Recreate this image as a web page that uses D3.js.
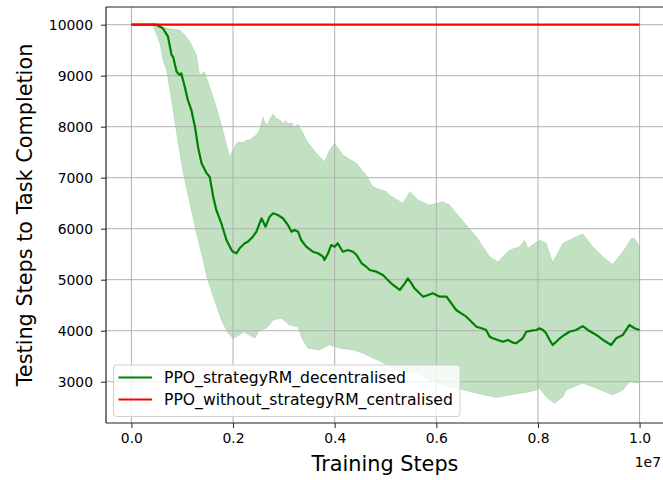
<!DOCTYPE html>
<html>
<head>
<meta charset="utf-8">
<script src="https://cdn.jsdelivr.net/npm/d3@7"></script>
<style>
  html, body { margin: 0; padding: 0; background: #fff; }
  svg { display: block; }
  text { font-family: "DejaVu Sans", sans-serif; fill: #000; }
</style>
</head>
<body>
<svg id="chart" width="663" height="480"></svg>
<script>
// Training steps are given in units of 1e7 (the axis carries a "1e7" offset label).
const meanSteps = [0.000, 0.049, 0.062, 0.072, 0.079, 0.082, 0.089, 0.095, 0.098, 0.105, 0.111, 0.118, 0.125, 0.131, 0.138, 0.148, 0.154, 0.161, 0.167, 0.177, 0.187, 0.197,
  0.200, 0.207, 0.213, 0.223, 0.229, 0.239, 0.246, 0.256, 0.264, 0.272, 0.279, 0.288, 0.298, 0.308, 0.315, 0.321, 0.328, 0.334, 0.344, 0.357, 0.367, 0.377, 0.380, 0.387, 0.393, 0.400, 0.406, 0.416, 0.426, 0.436, 0.443, 0.453, 0.462, 0.469, 0.482, 0.495, 0.508, 0.515, 0.528, 0.538, 0.544, 0.551, 0.557, 0.567, 0.574, 0.584, 0.593, 0.607, 0.620,
  0.639, 0.649, 0.659, 0.669, 0.679, 0.689, 0.698, 0.705, 0.711, 0.721, 0.731, 0.741, 0.751, 0.757, 0.764, 0.770, 0.777, 0.787, 0.797, 0.803, 0.810, 0.816, 0.823, 0.829, 0.836, 0.843, 0.852, 0.862, 0.875, 0.888, 0.898, 0.915, 0.928, 0.944, 0.954, 0.967, 0.980, 0.990, 1.000];
const meanValues = [10000, 10000, 9929, 9765, 9406, 9373, 9078, 9014, 9047, 8784, 8524, 8327, 8000, 7608, 7282, 7086, 7020, 6627, 6367, 6106, 5778, 5582,
  5549, 5518, 5616, 5714, 5745, 5843, 5941, 6204, 6039, 6235, 6302, 6269, 6204, 6073, 5941, 5975, 5941, 5778, 5647, 5549, 5518, 5451, 5386, 5518, 5680, 5647, 5714, 5549, 5582, 5549, 5484, 5322, 5255, 5190, 5157, 5092, 4961, 4896, 4798, 4929, 5027, 4929, 4831, 4733, 4667, 4700, 4733, 4667, 4667,
  4406, 4341, 4275, 4177, 4078, 4047, 4014, 3882, 3851, 3818, 3784, 3818, 3765, 3753, 3804, 3851, 3980, 4000, 4014, 4047, 4014, 3949, 3818, 3719, 3784, 3851, 3916, 3980, 4014, 4090, 4014, 3916, 3818, 3719, 3851, 3916, 4112, 4047, 4014];

const upperSteps = [0.000, 0.042, 0.069, 0.095, 0.102, 0.115, 0.128, 0.134, 0.144, 0.154, 0.167, 0.180, 0.193, 0.200, 0.207, 0.213, 0.220, 0.226, 0.233, 0.239, 0.246, 0.252, 0.259, 0.264, 0.269, 0.273, 0.279, 0.285, 0.292, 0.298, 0.304, 0.308, 0.315, 0.321, 0.328, 0.332, 0.338, 0.344, 0.364, 0.380, 0.390, 0.400, 0.416, 0.443, 0.456, 0.462, 0.475, 0.502, 0.508, 0.534, 0.548, 0.564, 0.587, 0.613, 0.626, 0.659, 0.679, 0.705, 0.721, 0.744, 0.764, 0.774, 0.780, 0.803, 0.816, 0.829, 0.849, 0.875, 0.888, 0.908, 0.928, 0.947, 0.967, 0.984, 0.990, 1.000];
const upperValues = [10000, 10000, 9929, 9896, 9831, 9667, 9406, 9014, 9078, 8784, 8392, 7937, 7412, 7543, 7675, 7706, 7686, 7739, 7739, 7791, 7837, 7937, 8196, 8033, 8067, 8165, 8249, 8165, 8131, 8067, 8118, 8053, 8078, 8000, 8053, 7969, 7871, 7739, 7478, 7314, 7543, 7675, 7445, 7282, 7118, 7053, 6824, 6726, 6661, 6498, 6726, 6563, 6465, 6529, 6465, 6073, 5843, 5451, 5353, 5582, 5647, 5778, 5616, 5778, 5720, 5340, 5714, 5843, 5900, 5647, 5451, 5300, 5549, 5812, 5812, 5650];

const lowerSteps = [0.000, 0.042, 0.056, 0.062, 0.069, 0.079, 0.092, 0.102, 0.115, 0.128, 0.141, 0.148, 0.161, 0.177, 0.190, 0.200, 0.213, 0.220, 0.243, 0.252, 0.266, 0.279, 0.295, 0.311, 0.328, 0.334, 0.347, 0.370, 0.390, 0.410, 0.436, 0.456, 0.475, 0.492, 0.502, 0.515, 0.528, 0.561, 0.587, 0.620, 0.646, 0.672, 0.718, 0.757, 0.784, 0.797, 0.803, 0.816, 0.823, 0.833, 0.849, 0.856, 0.888, 0.915, 0.947, 0.967, 0.980, 1.000];
const lowerValues = [10000, 10000, 9635, 9308, 9112, 8524, 7675, 7086, 6498, 5910, 5386, 5059, 4670, 4210, 3949, 3851, 3916, 3980, 3851, 4014, 4047, 4210, 4243, 4112, 4078, 3882, 3655, 3622, 3719, 3655, 3622, 3557, 3459, 3392, 3327, 3269, 3229, 3165, 3033, 2902, 2860, 2790, 2690, 2760, 2804, 2837, 2871, 2706, 2641, 2576, 2706, 2837, 2969, 2870, 2739, 2837, 3000, 2969];

const baselineSteps = [0.0, 1.0];
const baselineValues = [10000, 10000];

const xTicks = [0.0, 0.2, 0.4, 0.6, 0.8, 1.0];
const yTicks = [3000, 4000, 5000, 6000, 7000, 8000, 9000, 10000];
const seriesNames = ["PPO_strategyRM_decentralised", "PPO_without_strategyRM_centralised"];
const seriesColors = ["#008000", "#ff0000"];

const svg = d3.select("#chart");
const plot = { left: 106, right: 665, top: 7, bottom: 423 };

const x = d3.scaleLinear().domain([-0.05, 1.05]).range([plot.left, plot.right]);
const y = d3.scaleLinear().domain([2190, 10347]).range([plot.bottom, plot.top]);

svg.append("defs").append("clipPath").attr("id", "plot-clip")
  .append("rect")
  .attr("x", plot.left).attr("y", plot.top)
  .attr("width", plot.right - plot.left).attr("height", plot.bottom - plot.top);

const line = d3.line().x(d => x(d[0])).y(d => y(d[1]));

// shaded band between the lower and upper bounds
const upper = upperSteps.map((s, i) => [s, upperValues[i]]);
const lower = lowerSteps.map((s, i) => [s, lowerValues[i]]);
const bandPoints = upper.concat(lower.slice().reverse());

const bandLayer = svg.append("g").attr("clip-path", "url(#plot-clip)");
bandLayer.append("path")
  .attr("d", line(bandPoints) + "Z")
  .attr("fill", "#008000")
  .attr("fill-opacity", 0.24)
  .attr("stroke", "#008000")
  .attr("stroke-opacity", 0.12)
  .attr("stroke-width", 1);

// grid
const grid = svg.append("g").attr("clip-path", "url(#plot-clip)");
grid.selectAll("line.gx").data(xTicks).join("line")
  .attr("x1", d => x(d)).attr("x2", d => x(d))
  .attr("y1", plot.top).attr("y2", plot.bottom)
  .attr("stroke", "#b0b0b0").attr("stroke-width", 1);
grid.selectAll("line.gy").data(yTicks).join("line")
  .attr("x1", plot.left).attr("x2", plot.right)
  .attr("y1", d => y(d)).attr("y2", d => y(d))
  .attr("stroke", "#b0b0b0").attr("stroke-width", 1);

// series lines, drawn above the grid
const lineLayer = svg.append("g").attr("clip-path", "url(#plot-clip)");
lineLayer.append("path")
  .attr("d", line(meanSteps.map((s, i) => [s, meanValues[i]])))
  .attr("fill", "none")
  .attr("stroke", seriesColors[0])
  .attr("stroke-width", 2.2)
  .attr("stroke-linejoin", "round");

lineLayer.append("path")
  .attr("d", line(baselineSteps.map((s, i) => [s, baselineValues[i]])))
  .attr("fill", "none")
  .attr("stroke", seriesColors[1])
  .attr("stroke-width", 2.2);

// axes
const xAxis = d3.axisBottom(x).tickValues(xTicks).tickFormat(d3.format(".1f")).tickSizeOuter(0).tickSize(5).tickPadding(5);
const yAxis = d3.axisLeft(y).tickValues(yTicks).tickFormat(d3.format("d")).tickSizeOuter(0).tickSize(5).tickPadding(8);

const gx = svg.append("g").attr("transform", `translate(0,${plot.bottom})`).call(xAxis);
const gy = svg.append("g").attr("transform", `translate(${plot.left},0)`).call(yAxis);
[gx, gy].forEach(g => {
  g.select(".domain").remove();
  g.selectAll(".tick line").attr("stroke", "#222").attr("stroke-width", 1);
  g.selectAll(".tick text").attr("font-size", 13.9).attr("fill", "#222")
    .attr("font-family", "DejaVu Sans, sans-serif");
});

// spines (left, top, bottom)
svg.append("line").attr("x1", plot.left).attr("x2", plot.left).attr("y1", plot.top).attr("y2", plot.bottom)
  .attr("stroke", "#222").attr("stroke-width", 1.2);
svg.append("line").attr("x1", plot.left).attr("x2", plot.right).attr("y1", plot.top).attr("y2", plot.top)
  .attr("stroke", "#222").attr("stroke-width", 1.2);
svg.append("line").attr("x1", plot.left).attr("x2", plot.right).attr("y1", plot.bottom).attr("y2", plot.bottom)
  .attr("stroke", "#222").attr("stroke-width", 1.2);

// axis titles
svg.append("text")
  .attr("x", 385).attr("y", 471)
  .attr("text-anchor", "middle")
  .attr("font-size", 20.8)
  .attr("fill", "#111")
  .text("Training Steps");

svg.append("text")
  .attr("transform", "translate(32,215) rotate(-90)")
  .attr("text-anchor", "middle")
  .attr("font-size", 20.8)
  .attr("fill", "#111")
  .text("Testing Steps to Task Completion");

svg.append("text")
  .attr("x", 661).attr("y", 467)
  .attr("text-anchor", "end")
  .attr("font-size", 13.9)
  .attr("fill", "#222")
  .text("1e7");

// legend
const legend = svg.append("g");
legend.append("rect")
  .attr("x", 113.5).attr("y", 365).attr("width", 346.5).attr("height", 51.5)
  .attr("rx", 3).attr("ry", 3)
  .attr("fill", "#fff").attr("fill-opacity", 0.8)
  .attr("stroke", "#d0d0d0").attr("stroke-width", 1);
seriesNames.forEach((name, i) => {
  const cy = 377.5 + i * 22;
  legend.append("line")
    .attr("x1", 118.5).attr("x2", 152).attr("y1", cy).attr("y2", cy)
    .attr("stroke", seriesColors[i]).attr("stroke-width", 2.2);
  legend.append("text")
    .attr("x", 164).attr("y", cy).attr("dy", "0.36em")
    .attr("font-size", 15.6)
    .attr("fill", "#222")
    .text(name);
});
</script>
</body>
</html>
